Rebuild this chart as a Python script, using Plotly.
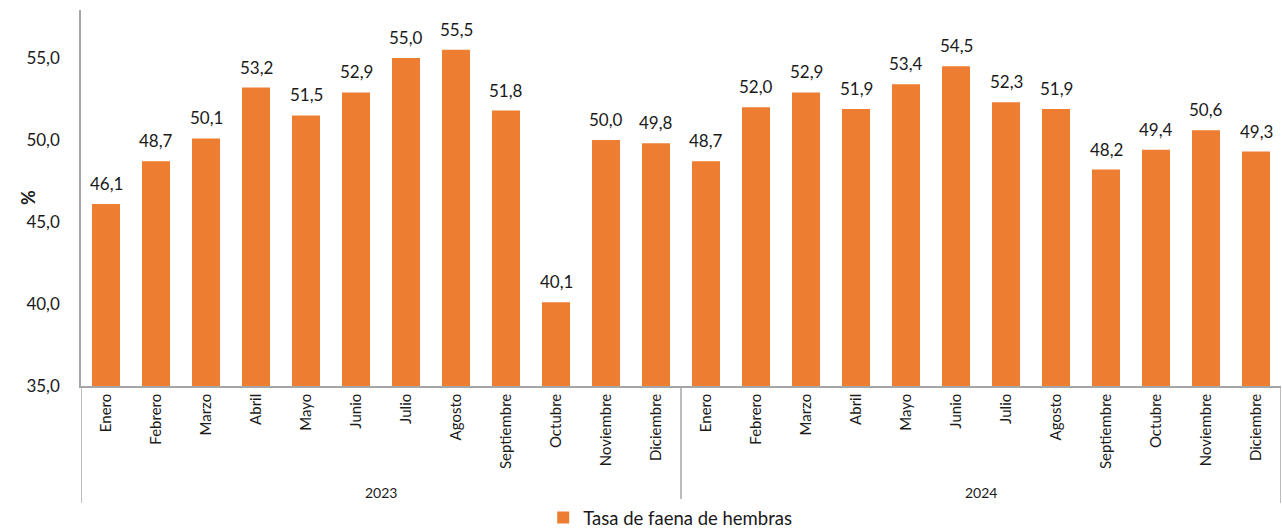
import plotly.graph_objects as go

years = ["2023", "2024"]
months = ["Enero", "Febrero", "Marzo", "Abril", "Mayo", "Junio", "Julio",
          "Agosto", "Septiembre", "Octubre", "Noviembre", "Diciembre"]
values_2023 = [46.1, 48.7, 50.1, 53.2, 51.5, 52.9, 55.0, 55.5, 51.8, 40.1, 50.0, 49.8]
values_2024 = [48.7, 52.0, 52.9, 51.9, 53.4, 54.5, 52.3, 51.9, 48.2, 49.4, 50.6, 49.3]
series_name = "Tasa de faena de hembras"
y_ticks = [35, 40, 45, 50, 55]

values = values_2023 + values_2024
labels = months + months
xs = list(range(len(values)))

FONT = "Lato"
ORANGE = "#ED7D31"
AXIS = "#A6A6A6"
TXT = "#1a1a1a"

fig = go.Figure()
fig.add_trace(go.Bar(
    x=xs, y=values, name=series_name,
    marker=dict(color=ORANGE, line=dict(width=0)),
    width=0.56,
    showlegend=True,
))

for x, v in zip(xs, values):
    fig.add_annotation(
        x=x, y=v, xref="x", yref="y",
        text=f"{v:.1f}".replace(".", ","),
        showarrow=False, yanchor="bottom", yshift=8,
        font=dict(family=FONT, size=17, color=TXT),
    )

# year group labels and separators
n = len(months)
for i, yr in enumerate(years):
    fig.add_annotation(
        x=i * n + (n - 1) / 2, y=-0.282, xref="x", yref="paper",
        text=yr, showarrow=False, yanchor="middle",
        font=dict(family=FONT, size=14, color=TXT),
    )
for i in range(len(years) + 1):
    fig.add_shape(
        type="line", xref="x", yref="paper",
        x0=i * n - 0.5, x1=i * n - 0.5, y0=0, y1=-0.311,
        line=dict(color=AXIS, width=1.5),
    )

fig.add_annotation(
    x=0, y=0.5, xref="paper", yref="paper", xshift=-66,
    text="<b>%</b>", textangle=-90, showarrow=False,
    font=dict(family=FONT, size=18, color=TXT),
)

fig.update_layout(
    width=1282, height=529,
    margin=dict(l=81, r=1, t=10, b=143, autoexpand=False),
    plot_bgcolor="white", paper_bgcolor="white",
    separators=",.",
    font=dict(family=FONT, color=TXT),
    xaxis=dict(
        tickmode="array", tickvals=xs, ticktext=labels, tickangle=-90,
        range=[-0.5, len(values) - 0.5],
        showline=True, linecolor=AXIS, linewidth=1.5,
        showgrid=False, ticks="", zeroline=False, automargin=False,
        tickfont=dict(family=FONT, size=15, color=TXT),
    ),
    yaxis=dict(
        range=[35, 57.93], tickvals=y_ticks, tickformat=".1f",
        showline=True, linecolor=AXIS, linewidth=1.5,
        showgrid=False, ticks="", zeroline=False, automargin=False,
        ticklabelstandoff=16,
        tickfont=dict(family=FONT, size=17, color=TXT),
    ),
    legend=dict(
        orientation="h", x=0.491, xanchor="center",
        yref="container", y=0.021, yanchor="middle",
        itemwidth=30,
        font=dict(family=FONT, size=18.5, color=TXT),
    ),
)

fig.write_html(
    "out.html",
    config={"displayModeBar": False},
    post_script="document.body.style.margin='0';document.body.style.overflow='hidden';",
)
